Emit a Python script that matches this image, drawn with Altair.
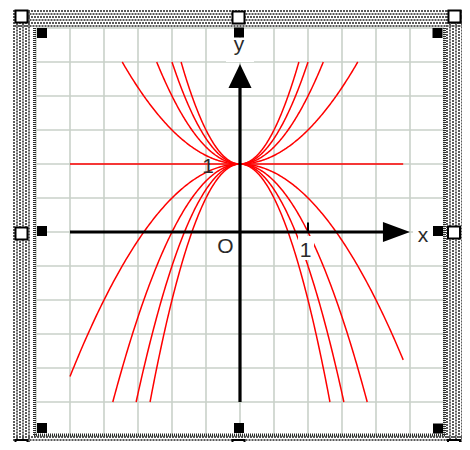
import altair as alt
import pandas as pd
import numpy as np

# ---- chart content -------------------------------------------------------
# family y = a*x^2 + 1
coefs = [-2.0, -1.5, -1.0, -0.5, 0.0, 0.5, 1.0, 1.5, 2.0]
x_start, x_end = -2.5, 2.4        # plotted x interval
y_lo, y_hi = -2.5, 2.5            # curves are cut at these heights
grid_vals = [-3.0, -2.5, -2.0, -1.5, -1.0, -0.5, 0.0, 0.5, 1.0, 1.5, 2.0, 2.5, 3.0]
label_texts = ["y", "x", "O", "1", "1"]

# ---- pixel <-> data helpers (page coords of origin and size of 1 unit) ---
PX0, PY0, U = 240.0, 232.0, 68.0
W, H = 454, 434


def dx(px):
    return (px - PX0) / U


def dy(py):
    return (PY0 - py) / U


XS = alt.Scale(domain=[dx(8), dx(8 + W)], nice=False, zero=False)
YS = alt.Scale(domain=[dy(8 + H), dy(8)], nice=False, zero=False)


def X(f="x"):
    return alt.X(f"{f}:Q", scale=XS, axis=None)


def Y(f="y"):
    return alt.Y(f"{f}:Q", scale=YS, axis=None)


# ---- curves --------------------------------------------------------------
rows = []
for a in coefs:
    lo, hi = x_start, x_end
    if a > 0:
        r = np.sqrt((y_hi - 1) / a)
        lo, hi = max(lo, -r), min(hi, r)
    elif a < 0:
        r = np.sqrt((1 - y_lo) / -a)
        lo, hi = max(lo, -r), min(hi, r)
    for xv in np.linspace(lo, hi, 240):
        rows.append({"a": a, "x": float(xv), "y": float(a * xv * xv + 1)})
curves = pd.DataFrame(rows)

# ---- grid ----------------------------------------------------------------
g = []
for v in grid_vals:
    g.append({"x": v, "x2": v, "y": -3.0, "y2": 3.0})
    g.append({"x": -3.0, "x2": 3.0, "y": v, "y2": v})
grid = pd.DataFrame(g)

grid_layer = alt.Chart(grid).mark_rule(color="#c9d1c9", strokeWidth=1.6).encode(
    x=X(), x2="x2:Q", y=Y(), y2="y2:Q")

# ---- selection frame (dotted band) ---------------------------------------
band_a, band_b = [], []
k = 0
for py in [11, 14, 17, 20, 23, 26, 437, 440, 443]:
    (band_a if k % 2 == 0 else band_b).append(
        {"x": dx(13), "x2": dx(462), "y": dy(py), "y2": dy(py)})
    k += 1
k = 0
for px in [14, 17, 20, 23, 26, 29, 447, 450, 453, 456, 459, 462]:
    (band_a if k % 2 == 0 else band_b).append(
        {"x": dx(px), "x2": dx(px), "y": dy(10), "y2": dy(450)})
    k += 1

band1 = alt.Chart(pd.DataFrame(band_a)).mark_rule(
    color="#5a5a5a", strokeWidth=2, strokeDash=[2, 1]).encode(
    x=X(), x2="x2:Q", y=Y(), y2="y2:Q")
band2 = alt.Chart(pd.DataFrame(band_b)).mark_rule(
    color="#5a5a5a", strokeWidth=2, strokeDash=[2, 1], strokeDashOffset=1.5).encode(
    x=X(), x2="x2:Q", y=Y(), y2="y2:Q")

inner = pd.DataFrame([
    {"x": dx(34.5), "x2": dx(34.5), "y": dy(28), "y2": dy(436)},
    {"x": dx(444.5), "x2": dx(444.5), "y": dy(28), "y2": dy(436)},
    {"x": dx(34), "x2": dx(446), "y": dy(435), "y2": dy(435)},
])
inner_layer = alt.Chart(inner).mark_rule(
    color="#2a2a2a", strokeWidth=3, strokeDash=[1, 1]).encode(
    x=X(), x2="x2:Q", y=Y(), y2="y2:Q")

# ---- axes ----------------------------------------------------------------
axes = pd.DataFrame([
    {"x": -2.5, "x2": 2.15, "y": 0.0, "y2": 0.0},
    {"x": 0.0, "x2": 0.0, "y": -2.5, "y2": 2.15},
])
axes_layer = alt.Chart(axes).mark_rule(color="black", strokeWidth=3.2).encode(
    x=X(), x2="x2:Q", y=Y(), y2="y2:Q")

tick = pd.DataFrame([{"x": 1.0, "x2": 1.0, "y": 0.0, "y2": 0.14}])
tick_layer = alt.Chart(tick).mark_rule(color="black", strokeWidth=2).encode(
    x=X(), x2="x2:Q", y=Y(), y2="y2:Q")

arrow_up = alt.Chart(pd.DataFrame([{"x": 0.0, "y": 2.294}])).mark_point(
    shape="M0,-1L0.96,1L-0.96,1Z", filled=True, size=576, color="black",
    opacity=1, strokeWidth=0).encode(x=X(), y=Y())
arrow_right = alt.Chart(pd.DataFrame([{"x": 2.301, "y": 0.0}])).mark_point(
    shape="M1,0L-1,0.74L-1,-0.74Z", filled=True, size=729, color="black",
    opacity=1, strokeWidth=0).encode(x=X(), y=Y())

# ---- curves layer --------------------------------------------------------
curve_layer = alt.Chart(curves).mark_line(color="#ff0000", strokeWidth=1.5).encode(
    x=X(), y=Y(), detail="a:N", order="x:Q")

# ---- label backgrounds & labels -----------------------------------------
bgs = pd.DataFrame([
    {"x": dx(226), "x2": dx(254), "y": dy(38), "y2": dy(62)},
    {"x": dx(413), "x2": dx(433), "y": dy(222), "y2": dy(245)},
    {"x": dx(298), "x2": dx(314), "y": dy(236), "y2": dy(260)},
])
bg_layer = alt.Chart(bgs).mark_rect(color="white").encode(
    x=X(), x2="x2:Q", y=Y(), y2="y2:Q")

labels = pd.DataFrame({
    "t": label_texts,
    "x": [dx(239), dx(423), dx(225.5), dx(305.5), dx(208)],
    "y": [dy(51), dy(242), dy(253), dy(257), dy(173)],
})
label_layer = alt.Chart(labels).mark_text(
    font="Liberation Sans", fontSize=21, color="#2a2a2a", align="center",
    baseline="alphabetic").encode(x=X(), y=Y(), text="t:N")

# ---- selection handles ---------------------------------------------------
white_c = [(21.5, 16.5), (238.5, 17.5), (454.5, 16.5), (21.5, 233.5),
           (454, 232.5), (21.5, 446), (238.5, 446), (454, 446)]
black_c = [(42, 33), (239, 32.5), (437.5, 33), (42, 231), (438, 231),
           (42, 428), (239, 428), (438, 428.5)]
wh = pd.DataFrame([{"x": dx(cx - 6), "x2": dx(cx + 6), "y": dy(cy - 6), "y2": dy(cy + 6)}
                   for cx, cy in white_c])
bh = pd.DataFrame([{"x": dx(cx - 5), "x2": dx(cx + 5), "y": dy(cy - 5), "y2": dy(cy + 5)}
                   for cx, cy in black_c])
wh_layer = alt.Chart(wh).mark_rect(fill="white", stroke="black", strokeWidth=2).encode(
    x=X(), x2="x2:Q", y=Y(), y2="y2:Q")
bh_layer = alt.Chart(bh).mark_rect(color="black").encode(
    x=X(), x2="x2:Q", y=Y(), y2="y2:Q")

chart = alt.layer(
    grid_layer, band1, band2, inner_layer, curve_layer, axes_layer, tick_layer,
    arrow_up, arrow_right, bg_layer, label_layer, wh_layer, bh_layer,
).properties(
    width=W, height=H, padding=0, background="white",
    autosize=alt.AutoSizeParams(type="none"),
).configure_view(stroke=None)

chart.save("out.html", embed_options={"renderer": "svg", "actions": False})
